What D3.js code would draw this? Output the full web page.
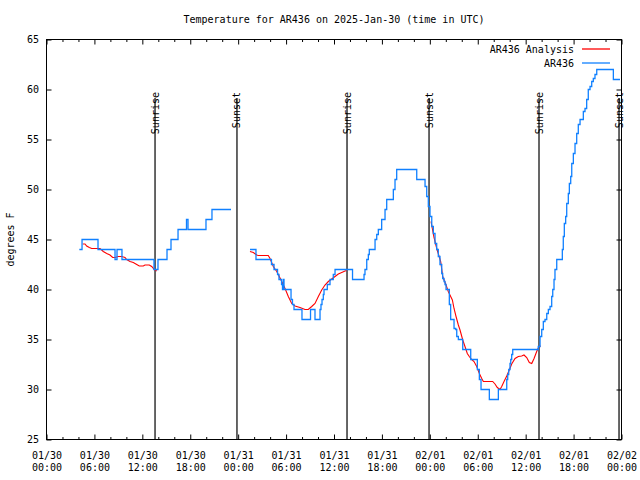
<!DOCTYPE html>
<html>
<head>
<meta charset="utf-8">
<script src="https://cdn.jsdelivr.net/npm/d3@7"></script>
<style>
html,body{margin:0;padding:0;background:#fff;}
svg{display:block;}
text{font-family:"DejaVu Sans Mono",monospace;font-size:10px;fill:#000;}
</style>
</head>
<body>
<svg id="chart" width="640" height="480"></svg>
<script>
// ---------- DATA ----------
const title = "Temperature for AR436 on 2025-Jan-30 (time in UTC)";
const yLabel = "degrees F";
const seriesNames = ["AR436 Analysis", "AR436"];
const startUTC = Date.UTC(2025, 0, 30, 0, 0);   // 01/30 00:00
const spanHours = 72;

// Observations (AR436), hours since start; null = gap; stepped values
const obsHours = [4.11,4.45,6.45,8.58,8.83,9.45,13.46,13.96,15.09,15.59,16.47,17.53,17.72,19.97,20.72,23.10,
  null,
  25.48,26.23,28.17,28.49,28.93,29.11,29.43,29.55,29.65,29.74,30.62,30.80,30.99,31.99,33.06,33.62,34.25,34.37,34.50,34.66,34.75,35.16,35.50,35.91,36.13,38.32,
  39.76,39.88,40.10,40.30,40.42,41.14,41.35,41.55,41.97,42.39,42.60,43.43,43.64,43.85,46.36,47.40,47.61,47.81,48.02,48.24,48.44,48.65,48.86,49.06,49.27,
  49.49,49.61,49.78,49.90,50.03,50.44,50.61,51.03,51.24,51.37,51.57,52.12,53.12,53.95,54.20,54.41,55.45,56.58,57.63,57.75,57.88,58.04,58.13,58.25,58.38,
  61.58,61.80,62.01,62.21,62.42,62.64,62.84,63.05,63.26,63.39,63.55,63.67,63.89,64.59,64.71,64.84,65.01,65.14,65.34,65.47,65.64,65.77,65.97,66.18,66.39,66.59,66.81,
  67.22,67.43,67.64,67.84,68.06,68.27,68.47,68.68,68.90,70.98,71.81];
const obsTemps = [44,45,44,43,44,43,42,43,44,45,46,47,46,47,48,48,
  null,
  44,43,42.5,42,41.5,41,40.5,40,41,40,39,38.5,38,37,38,37,38,38.5,39,39.5,40,40.5,41,41.5,42,41,
  41.5,42,43,43.5,44,45,45.5,46,47,48,49,50,51,52,51,50.3,49.3,48.3,47.3,46.3,45.6,44.6,44,43.3,42.5,
  41.6,41.1,40.8,40.5,40,38.5,37,36.1,36,35.3,35,34,33,32,31,30,29,30,31,31.5,32,32.6,33,33.5,34,
  34.3,35.3,36,36.8,37,37.6,38,38.3,39.3,40,41,42,43,44,45.3,46.6,47.3,48.6,49.6,50.6,51.3,52.6,53.6,54.6,55.6,56.5,57,
  57.8,58.1,59,60,60.3,60.8,61.1,61.5,62,61,61];

// Analysis (AR436 Analysis), hours since start; null = gap
const anaHours = [4.53,4.82,5.03,5.36,5.66,6.70,6.91,7.11,7.54,7.95,8.29,8.58,8.99,9.42,9.83,10.04,10.46,10.87,11.30,11.62,12.12,12.33,12.87,13.17,13.50,13.80,
  null,
  25.48,25.90,26.32,26.52,27.77,27.99,28.40,28.83,29.15,29.45,29.87,30.28,30.70,31.12,31.74,32.37,32.78,33.21,33.62,34.04,34.46,34.87,35.29,35.71,36.13,36.54,36.97,37.38,37.59,
  null,
  48.15,48.52,48.90,49.36,49.61,49.78,50.03,50.31,50.61,50.82,51.03,51.28,51.57,51.78,52.12,52.40,52.69,52.94,53.24,53.53,53.87,54.20,54.50,54.70,55.87,56.16,56.45,56.79,57.00,57.29,57.63,57.95,58.25,58.67,59.08,59.50,59.79,60.13,60.46,60.76,61.05,61.38,61.67,61.88];
const anaTemps = [44.55,44.55,44.35,44.2,44.1,44.1,43.95,43.8,43.6,43.45,43.2,43.2,43.3,43.3,43.2,43.0,42.8,42.7,42.5,42.35,42.35,42.45,42.45,42.3,42.0,41.85,
  null,
  43.8,43.7,43.45,43.4,43.4,43.1,42.3,41.8,41.3,40.8,40.1,39.3,38.6,38.35,38.2,38.0,38.0,38.3,38.6,39.3,39.95,40.45,40.8,41.05,41.3,41.55,41.7,41.85,41.9,
  null,
  46.8,45.2,44.0,42.8,41.3,40.95,40.45,39.8,39.3,38.95,38.1,37.3,36.45,35.95,34.95,34.3,33.6,33.3,33.0,32.8,32.3,31.6,31.1,30.8,30.8,30.55,30.2,30.0,30.3,30.8,31.35,31.95,32.55,33.1,33.3,33.35,33.45,33.2,32.7,32.6,33.1,33.8,34.3,34.35];

const sunriseHours = [13.59, 37.63, 61.67];
const sunsetHours = [23.85, 47.90, 71.69];
const majorTickHours = [0,6,12,18,24,30,36,42,48,54,60,66,72];
const minorTickHours = [2,4,8,10,14,16,20,22,26,28,32,34,38,40,44,46,50,52,56,58,62,64,68,70];
const yTicks = [25,30,35,40,45,50,55,60,65];
const yDomain = [25, 65];

// ---------- CHART ----------
const toDate = h => new Date(startUTC + h * 3600000);
const L = 46.5, R = 621.5, T = 39.5, B = 439.5;
const svg = d3.select("#chart");
svg.append("rect").attr("width",640).attr("height",480).attr("fill","#fff");

const x = d3.scaleUtc().domain([toDate(0), toDate(spanHours)]).range([L, R]);
const y = d3.scaleLinear().domain(yDomain).range([B, T]);

const fmtDay = d3.utcFormat("%m/%d"), fmtTime = d3.utcFormat("%H:%M");
function styleAxis(g){
  g.attr("font-family", null).attr("font-size", null);
  g.select(".domain").remove();
  g.selectAll(".tick line").attr("stroke","#000").attr("stroke-width",1);
}

// bottom major
const gxb = svg.append("g").attr("transform",`translate(0,${B})`)
  .call(d3.axisBottom(x).tickValues(majorTickHours.map(toDate)).tickSizeInner(-5).tickSizeOuter(0));
styleAxis(gxb);
gxb.selectAll(".tick text").attr("dy", null).attr("y", null).text(null).each(function(d){
  const t = d3.select(this);
  t.append("tspan").attr("x",0).attr("y",19).text(fmtDay(d));
  t.append("tspan").attr("x",0).attr("y",31).text(fmtTime(d));
});
// bottom minor
const gxbm = svg.append("g").attr("transform",`translate(0,${B})`)
  .call(d3.axisBottom(x).tickValues(minorTickHours.map(toDate)).tickSizeInner(-2.5).tickSizeOuter(0).tickFormat(""));
styleAxis(gxbm);
// top major/minor
const gxt = svg.append("g").attr("transform",`translate(0,${T})`)
  .call(d3.axisTop(x).tickValues(majorTickHours.map(toDate)).tickSizeInner(-5).tickSizeOuter(0).tickFormat(""));
styleAxis(gxt);
const gxtm = svg.append("g").attr("transform",`translate(0,${T})`)
  .call(d3.axisTop(x).tickValues(minorTickHours.map(toDate)).tickSizeInner(-2.5).tickSizeOuter(0).tickFormat(""));
styleAxis(gxtm);
// y left / right
const gyl = svg.append("g").attr("transform",`translate(${L},0)`)
  .call(d3.axisLeft(y).tickValues(yTicks).tickSizeInner(-5).tickSizeOuter(0).tickPadding(7.5).tickFormat(d3.format("d")));
styleAxis(gyl);
gyl.selectAll(".tick text").attr("text-anchor","end");
const gyr = svg.append("g").attr("transform",`translate(${R},0)`)
  .call(d3.axisRight(y).tickValues(yTicks).tickSizeInner(-5).tickSizeOuter(0).tickFormat(""));
styleAxis(gyr);

// sunrise / sunset markers
const markers = sunriseHours.map(h => ({h, label:"Sunrise"})).concat(sunsetHours.map(h => ({h, label:"Sunset"})));
const gm = svg.append("g");
markers.forEach(m => {
  const px = x(toDate(m.h));
  gm.append("line").attr("x1",px).attr("x2",px).attr("y1",98).attr("y2",B)
    .attr("stroke","#000").attr("stroke-width",1.2);
  gm.append("text").attr("transform",`translate(${px},92) rotate(-90)`)
    .attr("text-anchor","end").attr("dy","0.35em").text(m.label);
});

// series
const anaData = anaHours.map((h,i) => ({h, v: anaTemps[i]}));
const obsData = obsHours.map((h,i) => ({h, v: obsTemps[i]}));
const anaLine = d3.line().defined(d => d.h != null && d.v != null)
  .x(d => x(toDate(d.h))).y(d => y(d.v));
const obsLine = d3.line().defined(d => d.h != null && d.v != null)
  .x(d => x(toDate(d.h))).y(d => y(d.v)).curve(d3.curveStepAfter);
const red = "#ff0000", blue = "#1080ff";
svg.append("path").attr("d", anaLine(anaData)).attr("fill","none").attr("stroke",red).attr("stroke-width",1.1);
svg.append("path").attr("d", obsLine(obsData)).attr("fill","none").attr("stroke",blue).attr("stroke-width",1.3);

// border
svg.append("rect").attr("x",L).attr("y",T).attr("width",R-L).attr("height",B-T)
  .attr("fill","none").attr("stroke","#000").attr("stroke-width",1);

// legend
const legend = [{name: seriesNames[0], color: red, y: 49}, {name: seriesNames[1], color: blue, y: 63}];
legend.forEach(l => {
  svg.append("text").attr("x",574).attr("y",l.y).attr("dy","0.35em").attr("text-anchor","end").text(l.name);
  svg.append("line").attr("x1",582).attr("x2",610).attr("y1",l.y).attr("y2",l.y)
    .attr("stroke",l.color).attr("stroke-width",1.3);
});

// title & y label
svg.append("text").attr("x",(L+R)/2).attr("y",19).attr("dy","0.35em").attr("text-anchor","middle").text(title);
svg.append("text").attr("transform",`translate(10.5,${(T+B)/2}) rotate(-90)`)
  .attr("text-anchor","middle").attr("dy","0.35em").text(yLabel);
</script>
</body>
</html>
